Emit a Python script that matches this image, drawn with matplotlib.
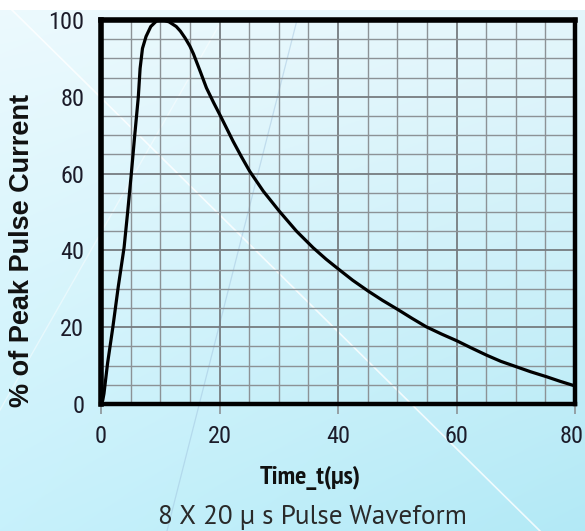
import matplotlib.pyplot as plt
import numpy as np
from matplotlib import font_manager
from matplotlib.transforms import ScaledTranslation

# waveform (time in us, % of peak)
time_us = [0, 0.3, 0.5, 1.1, 2.0, 2.9, 3.9, 4.5, 5.1, 5.7, 6.3, 6.6,
           7.0, 7.6, 8.4, 9.4, 10.5, 11.5, 12.7, 13.4, 14.2,
           15.0, 15.6, 16.7, 17.8, 19.0, 20.2, 22.3, 23.7, 25.1, 27.4, 30.1,
           33.0, 35.8, 38.0, 40.1, 42.5, 45.1, 47.5, 50.1, 52.5, 54.9, 57.5,
           60.0, 62.5, 65.1, 67.5, 70.1, 72.5, 75.2, 77.5, 80.0]
pct_peak = [0, 1, 2.7, 10.5, 20, 30.4, 40.8, 50, 59.7, 70.1, 80, 87.4,
            92.6, 95.7, 98.3, 99.8, 100, 99.5, 98.3, 97.1, 95.3,
            93.2, 91.2, 86.8, 82.3, 78.5, 74.9, 68.4, 64.4, 60.6, 55.4,
            50.2, 45.0, 40.7, 37.7, 35.1, 32.2, 29.4, 27.0, 24.6, 22.3, 20.1,
            18.2, 16.5, 14.6, 12.7, 11.1, 9.7, 8.4, 7.1, 5.9, 4.7]

x_ticks = [0, 20, 40, 60, 80]
y_ticks = [0, 20, 40, 60, 80, 100]


def pick(cands):
    have = set(f.name for f in font_manager.fontManager.ttflist)
    for c in cands:
        if c in have:
            return [c, 'DejaVu Sans']
    return ['DejaVu Sans']


narrow = pick(['Liberation Sans Narrow', 'Arial Narrow', 'Roboto Condensed',
               'PT Sans Narrow', 'Archivo Narrow', 'Liberation Sans'])
bold_sans = pick(['Liberation Sans', 'Arimo', 'Arial', 'DejaVu Sans'])
myriad = pick(['PT Sans', 'Open Sans', 'Noto Sans'])
myriad_cond = pick(['PT Sans Narrow', 'Roboto Condensed',
                    'Liberation Sans Narrow'])

W, H = 585, 531
fig = plt.figure(figsize=(W / 100, H / 100), dpi=100)

# background: soft cyan gradient with a few decorative lines
bg = fig.add_axes([0, 0, 1, 1], zorder=-5)
u = np.linspace(0, 1, W)[None, :, None]
w = np.linspace(0, 1, H)[:, None, None]
tl = np.array([0.93, 0.98, 0.995])
tr = np.array([0.90, 0.965, 0.985])
bl = np.array([0.78, 0.945, 0.985])
br = np.array([0.70, 0.915, 0.965])
img = (tl * (1 - u) * (1 - w) + tr * u * (1 - w) + bl * (1 - u) * w + br * u * w)
img[:10] = 1.0
bg.imshow(img, extent=(0, W, H, 0), aspect='auto')
bg.plot([12, 540], [10, 531], color='white', lw=1.2, alpha=0.8)
bg.plot([0, 222], [410, 20], color='white', lw=1.0, alpha=0.45)
bg.plot([167, 297], [531, 20], color='#9dbfdc', lw=0.9, alpha=0.45)
bg.set_xlim(0, W)
bg.set_ylim(H, 0)
bg.axis('off')

ax = fig.add_axes([101 / W, 1 - 404 / H, 474 / W, 384 / H])
ax.patch.set_alpha(0)

ax.set_xticks(np.arange(0, 81, 5), minor=True)
ax.set_yticks(np.arange(0, 101, 5), minor=True)
ax.grid(which='minor', color='#8c9296', lw=1.0)
ax.grid(which='major', color='#767c80', lw=1.3)

ax.plot(time_us, pct_peak, color='black', lw=2.3, solid_joinstyle='round')

ax.set_xlim(0, 80)
ax.set_ylim(0, 100)
ax.set_xticks(x_ticks)
ax.set_yticks(y_ticks)

tick_font = dict(family=narrow, size=17.5, color='#1c1c2a')
ax.set_xticklabels([str(t) for t in x_ticks], **tick_font)
ax.set_yticklabels([str(t) for t in y_ticks], **tick_font)
ax.tick_params(axis='x', which='major', length=7, width=1.2, color='#8c9296',
               pad=8)
ax.tick_params(axis='y', which='major', length=0, pad=12)
ax.tick_params(which='minor', length=0)
# last x label sits flush with the figure edge, as in the original
last = ax.get_xticklabels()[-1]
last.set_transform(last.get_transform()
                   + ScaledTranslation(-3 / 100, 0, fig.dpi_scale_trans))

for side in ['left', 'top']:
    ax.spines[side].set_linewidth(4)
ax.spines['right'].set_linewidth(3.2)
ax.spines['bottom'].set_linewidth(3.2)
for s in ax.spines.values():
    s.set_color('black')
    s.set_zorder(5)

fig.text(22 / W, 1 - 250 / H, '% of Peak Pulse Current', rotation=90,
         ha='center', va='center', fontsize=19.5, fontweight='bold',
         family=bold_sans, color='#111111')
fig.text(310 / W, 1 - 478 / H, 'Time_t(μs)', ha='center', va='center',
         fontsize=19, fontweight='bold', family=myriad_cond, color='#111111')
fig.text(312 / W, 1 - 518 / H, '8 X 20 μ s Pulse Waveform', ha='center',
         va='center', fontsize=19.5, family=myriad, color='#2a2a2a')

fig.savefig('out.png', dpi=100)
